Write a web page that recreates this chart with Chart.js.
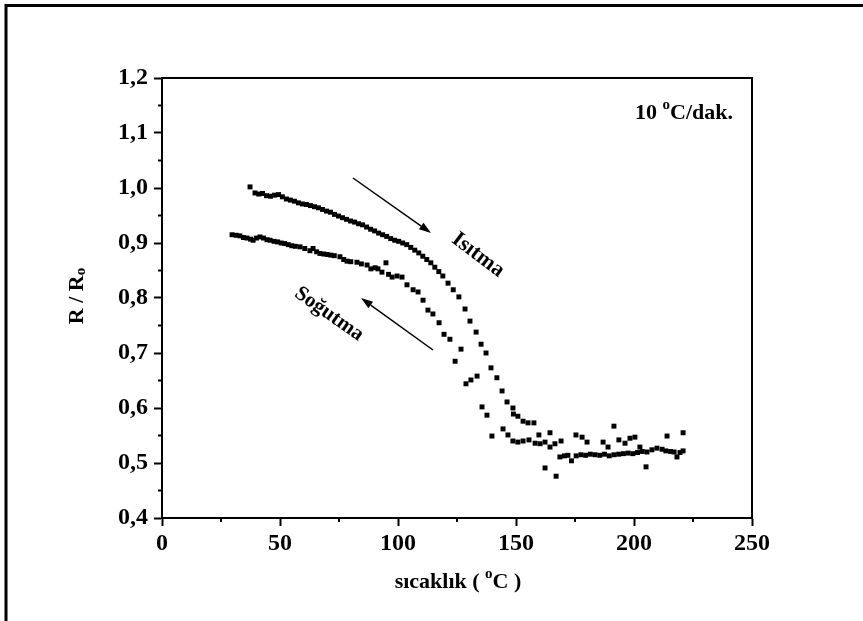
<!DOCTYPE html>
<html>
<head>
<meta charset="utf-8">
<script src="https://cdn.jsdelivr.net/npm/chart.js@4.4.1/dist/chart.umd.min.js"></script>
<style>
  body { margin: 0; background: #fff; }
  #wrap { width: 863px; height: 621px; }
</style>
</head>
<body>
<div id="wrap"><canvas id="myChart" width="863" height="621"></canvas></div>
<script>
// heating run (Isıtma), temperature in °C and R/Ro
var heatT = [37.3, 39.4, 41.0, 42.6, 44.3, 46.0, 47.7, 49.4, 51.0, 52.7, 54.4, 56.1, 57.8, 59.5, 61.2, 62.9,
  64.6, 66.3, 68.0, 69.7, 71.4, 73.1, 74.8, 76.5, 78.2, 79.9, 81.6, 83.3, 85.0, 86.7, 88.4, 90.1,
  91.8, 93.5, 95.2, 96.9, 98.6, 100.3, 102.0, 103.7, 105.4, 107.1, 108.8, 110.5, 112.2, 113.9, 115.6, 117.3,
  119.0, 121.2, 123.4, 125.8, 128.4, 130.5, 133.1, 135.2, 137.3, 139.4, 141.9, 144.1, 146.2, 148.7, 148.9, 150.8,
  153.0, 155.1, 157.6, 162.3, 167.0, 168.6, 170.5, 172.0, 173.5, 175.5, 177.5, 179.5, 181.5, 183.5, 185.5, 187.5,
  189.5, 191.5, 193.5, 195.5, 197.5, 199.5, 201.5, 203.5, 205.5, 207.6, 209.7, 211.9, 213.5, 215.5, 217.0, 218.2,
  219.5, 220.8];
var heatR = [1.002, 0.991, 0.989, 0.990, 0.986, 0.985, 0.987, 0.988, 0.984, 0.980, 0.978, 0.976, 0.973, 0.971, 0.970, 0.968,
  0.966, 0.964, 0.961, 0.958, 0.956, 0.952, 0.949, 0.946, 0.943, 0.940, 0.938, 0.935, 0.933, 0.929, 0.925, 0.922,
  0.918, 0.915, 0.912, 0.908, 0.905, 0.903, 0.900, 0.897, 0.892, 0.887, 0.882, 0.876, 0.870, 0.864, 0.856, 0.848,
  0.840, 0.827, 0.815, 0.802, 0.780, 0.758, 0.738, 0.716, 0.700, 0.673, 0.655, 0.631, 0.611, 0.600, 0.589, 0.585,
  0.576, 0.573, 0.573, 0.491, 0.476, 0.511, 0.513, 0.514, 0.504, 0.513, 0.515, 0.514, 0.516, 0.515, 0.514, 0.516,
  0.513, 0.515, 0.516, 0.517, 0.518, 0.517, 0.519, 0.521, 0.520, 0.524, 0.527, 0.525, 0.522, 0.521, 0.520, 0.511,
  0.519, 0.522];

// cooling run (Soğutma)
var coolT = [29.7, 31.5, 33.0, 34.5, 36.0, 37.5, 38.6, 40.0, 41.5, 43.0, 44.5, 45.8, 47.5, 49.0, 50.5, 52.0,
  53.5, 55.0, 56.5, 58.5, 60.5, 62.7, 64.0, 65.5, 66.9, 68.5, 70.0, 71.5, 73.0, 75.4, 77.0, 78.4,
  80.0, 82.6, 84.5, 86.9, 88.5, 90.3, 91.5, 93.2, 94.9, 96.0, 97.5, 99.6, 101.7, 103.8, 106.4, 108.5,
  110.6, 112.7, 114.8, 117.4, 119.5, 122.0, 124.2, 126.7, 128.8, 130.9, 133.5, 135.6, 137.7, 139.8, 144.5, 146.6,
  148.7, 150.8, 153.0, 155.5, 158.1, 159.7, 160.2, 162.3, 164.4, 164.4, 166.5, 169.1, 175.4, 178.0, 180.1, 186.9,
  189.0, 191.5, 193.6, 196.2, 198.3, 200.4, 202.5, 205.1, 214.0, 220.8];
var coolR = [0.915, 0.914, 0.913, 0.910, 0.909, 0.907, 0.905, 0.909, 0.911, 0.909, 0.906, 0.905, 0.903, 0.902, 0.900, 0.899,
  0.897, 0.895, 0.894, 0.893, 0.890, 0.886, 0.890, 0.884, 0.881, 0.880, 0.879, 0.878, 0.877, 0.875, 0.870, 0.867,
  0.866, 0.865, 0.862, 0.860, 0.853, 0.855, 0.853, 0.847, 0.864, 0.843, 0.838, 0.840, 0.838, 0.824, 0.815, 0.811,
  0.796, 0.778, 0.771, 0.755, 0.734, 0.725, 0.685, 0.707, 0.644, 0.651, 0.658, 0.602, 0.587, 0.549, 0.562, 0.551,
  0.540, 0.538, 0.540, 0.542, 0.536, 0.551, 0.535, 0.538, 0.555, 0.529, 0.535, 0.540, 0.551, 0.547, 0.538, 0.538,
  0.529, 0.567, 0.542, 0.536, 0.545, 0.547, 0.529, 0.493, 0.549, 0.555];

var FONT = "'Liberation Serif', 'Times New Roman', serif";

function pts(xs, ys) {
  return xs.map(function (x, i) { return { x: x, y: ys[i] }; });
}

// draw a row of text pieces (normal / superscript / subscript)
function drawRuns(ctx, parts, x, y, align) {
  var total = 0;
  parts.forEach(function (p) {
    ctx.font = 'bold ' + p.size + 'px ' + FONT;
    p.w = ctx.measureText(p.t).width;
    total += p.w;
  });
  var cx = align === 'center' ? x - total / 2 : x;
  ctx.textAlign = 'left';
  ctx.textBaseline = 'alphabetic';
  parts.forEach(function (p) {
    ctx.font = 'bold ' + p.size + 'px ' + FONT;
    ctx.fillText(p.t, cx, y + (p.dy || 0));
    cx += p.w;
  });
}

function arrow(ctx, x1, y1, x2, y2) {
  var a = Math.atan2(y2 - y1, x2 - x1);
  var hl = 12, hw = 4;
  ctx.beginPath();
  ctx.moveTo(x1, y1);
  ctx.lineTo(x2 - hl * Math.cos(a), y2 - hl * Math.sin(a));
  ctx.stroke();
  ctx.beginPath();
  ctx.moveTo(x2, y2);
  ctx.lineTo(x2 - hl * Math.cos(a) + hw * Math.sin(a), y2 - hl * Math.sin(a) - hw * Math.cos(a));
  ctx.lineTo(x2 - hl * Math.cos(a) - hw * Math.sin(a), y2 - hl * Math.sin(a) + hw * Math.cos(a));
  ctx.closePath();
  ctx.fill();
}

var extras = {
  id: 'extras',
  afterDraw: function (chart) {
    var ctx = chart.ctx, a = chart.chartArea;
    var xs = chart.scales.x, ys = chart.scales.y;
    ctx.save();
    ctx.strokeStyle = '#000';
    ctx.fillStyle = '#000';

    // outer figure frame (only left and top visible)
    ctx.lineWidth = 3;
    ctx.beginPath();
    ctx.moveTo(6, 621);
    ctx.lineTo(6, 5.5);
    ctx.lineTo(863, 5.5);
    ctx.stroke();

    // top and right side of the box
    ctx.lineWidth = 2;
    ctx.beginPath();
    ctx.moveTo(a.left, a.top);
    ctx.lineTo(a.right, a.top);
    ctx.lineTo(a.right, a.bottom);
    ctx.stroke();

    // minor ticks
    ctx.lineWidth = 2;
    ctx.beginPath();
    for (var v = 0.45; v < 1.2; v += 0.1) {
      var py = ys.getPixelForValue(v);
      ctx.moveTo(a.left - 4, py);
      ctx.lineTo(a.left, py);
    }
    for (var t = 25; t < 250; t += 50) {
      var px = xs.getPixelForValue(t);
      ctx.moveTo(px, a.bottom);
      ctx.lineTo(px, a.bottom + 4);
    }
    ctx.stroke();

    // arrows
    ctx.lineWidth = 1.5;
    arrow(ctx, 353, 178, 431, 233);
    arrow(ctx, 433, 350, 361, 298);

    // rotated labels
    ctx.save();
    ctx.translate(478, 255);
    ctx.rotate(37 * Math.PI / 180);
    ctx.font = 'bold 22px ' + FONT;
    ctx.textAlign = 'center';
    ctx.textBaseline = 'middle';
    ctx.fillText('Isıtma', 0, 0);
    ctx.restore();

    ctx.save();
    ctx.translate(329, 314);
    ctx.rotate(35 * Math.PI / 180);
    ctx.font = 'bold 21px ' + FONT;
    ctx.textAlign = 'center';
    ctx.textBaseline = 'middle';
    ctx.fillText('Soğutma', 0, 0);
    ctx.restore();

    // rate note
    drawRuns(ctx, [
      { t: '10 ', size: 22 },
      { t: 'o', size: 15, dy: -10 },
      { t: 'C/dak.', size: 22 }
    ], 635, 119, 'left');

    // axis titles
    drawRuns(ctx, [
      { t: 'sıcaklık ( ', size: 22 },
      { t: 'o', size: 15, dy: -10 },
      { t: 'C )', size: 22 }
    ], 458, 588, 'center');

    ctx.save();
    ctx.translate(83, 296);
    ctx.rotate(-Math.PI / 2);
    drawRuns(ctx, [
      { t: 'R / R', size: 22 },
      { t: 'o', size: 15, dy: 2 }
    ], 0, 0, 'center');
    ctx.restore();

    ctx.restore();
  }
};

var ctx = document.getElementById('myChart').getContext('2d');

var myChart = new Chart(ctx, {
  type: 'scatter',
  data: {
    datasets: [{
      label: 'Isıtma',
      data: pts(heatT, heatR),
      pointStyle: 'rect',
      pointRadius: 3.5,
      backgroundColor: '#000',
      borderWidth: 0
    }, {
      label: 'Soğutma',
      data: pts(coolT, coolR),
      pointStyle: 'rect',
      pointRadius: 3.5,
      backgroundColor: '#000',
      borderWidth: 0
    }]
  },
  options: {
    responsive: false,
    animation: false,
    layout: { padding: { left: 0, right: 111, top: 78, bottom: 53 } },
    plugins: {
      legend: { display: false },
      tooltip: { enabled: false }
    },
    scales: {
      x: {
        type: 'linear',
        min: 0,
        max: 250,
        afterFit: function (s) { s.height = 50; },
        border: { display: true, color: '#000', width: 2 },
        grid: { drawOnChartArea: false, tickLength: 8, tickWidth: 2, tickColor: '#000' },
        ticks: {
          stepSize: 50,
          padding: 3,
          color: '#000',
          font: { family: FONT, size: 24, weight: 'bold' },
          maxRotation: 0
        }
      },
      y: {
        type: 'linear',
        min: 0.4,
        max: 1.2,
        afterFit: function (s) { s.width = 162; },
        border: { display: true, color: '#000', width: 2 },
        grid: { drawOnChartArea: false, tickLength: 8, tickWidth: 2, tickColor: '#000' },
        ticks: {
          stepSize: 0.1,
          padding: 6,
          color: '#000',
          font: { family: FONT, size: 24, weight: 'bold' },
          callback: function (v) { return v.toFixed(1).replace('.', ','); }
        }
      }
    }
  },
  plugins: [extras]
});
</script>
</body>
</html>
